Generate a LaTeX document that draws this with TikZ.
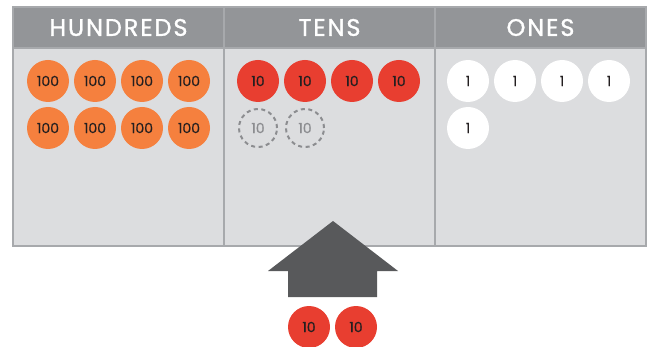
\documentclass[tikz,border=0pt]{standalone}
\usepackage{fontspec}
\setmainfont{Poppins}
\newfontfamily\headfont{Poppins}[FakeBold=1.2, LetterSpace=8]
\newfontfamily\chipfont{Poppins}[FakeBold=0.6]
\usepackage{tikz}
\usetikzlibrary{positioning}
\definecolor{headgray}{HTML}{939598}
\definecolor{bodygray}{HTML}{DCDDDF}
\definecolor{linegray}{HTML}{A7A9AC}
\definecolor{hundredorange}{HTML}{F5803E}
\definecolor{tenred}{HTML}{E83E30}
\definecolor{chipblack}{HTML}{231F20}
\definecolor{ghostgray}{HTML}{8C8D90}
\definecolor{arrowgray}{HTML}{58595B}
\tikzstyle{header} = [rectangle, minimum width=211pt, minimum height=41pt, inner sep=0pt, fill=headgray, text=white, font=\headfont\fontsize{24}{24}\selectfont]
\tikzstyle{column} = [rectangle, minimum width=211pt, minimum height=198pt, inner sep=0pt, fill=bodygray]
\tikzstyle{chip} = [circle, minimum size=42pt, inner sep=0pt, text=chipblack, font=\chipfont\fontsize{14}{14}\selectfont]
\tikzstyle{hundred} = [chip, fill=hundredorange]
\tikzstyle{ten} = [chip, fill=tenred]
\tikzstyle{one} = [chip, fill=white]
\tikzstyle{ghost} = [chip, minimum size=38pt, draw=ghostgray, line width=2pt, dash pattern=on 4pt off 3.5pt, text=ghostgray]
\tikzstyle{divider} = [draw=linegray, line width=1.5pt]

\begin{document}
\begin{tikzpicture}[x=1pt, y=1pt, node distance=47pt]
  \useasboundingbox (0,0) rectangle (652,-347);
  % place value table
  \node (hundreds_head) [header] at (118.5,-27.5) {HUNDREDS};
  \node (tens_head) [header, right of = hundreds_head, xshift=164pt] {TENS};
  \node (ones_head) [header, right of = tens_head, xshift=164pt] {ONES};
  \node (hundreds_col) [column] at (118.5,-147) {};
  \node (tens_col) [column, right of = hundreds_col, xshift=164pt] {};
  \node (ones_col) [column, right of = tens_col, xshift=164pt] {};
  \draw[divider] (hundreds_head.south west) -- (ones_head.south east);
  \draw[divider] (hundreds_head.north east) -- (hundreds_col.south east);
  \draw[divider] (tens_head.north east) -- (tens_col.south east);
  \draw[divider] (hundreds_head.north west) rectangle (ones_col.south east);
  % hundreds
  \node (h1) [hundred] at (48,-81) {100};
  \node (h2) [hundred, right of = h1] {100};
  \node (h3) [hundred, right of = h2] {100};
  \node (h4) [hundred, right of = h3] {100};
  \node (h5) [hundred, below of = h1] {100};
  \node (h6) [hundred, right of = h5] {100};
  \node (h7) [hundred, right of = h6] {100};
  \node (h8) [hundred, right of = h7] {100};
  % tens
  \node (t1) [ten] at (258,-81) {10};
  \node (t2) [ten, right of = t1] {10};
  \node (t3) [ten, right of = t2] {10};
  \node (t4) [ten, right of = t3] {10};
  \node (t5) [ghost, below of = t1] {10};
  \node (t6) [ghost, right of = t5] {10};
  % ones
  \node (o1) [one] at (468,-81) {1};
  \node (o2) [one, right of = o1] {1};
  \node (o3) [one, right of = o2] {1};
  \node (o4) [one, right of = o3] {1};
  \node (o5) [one, below of = o1] {1};
  % carried tens
  \node (carry_a) [ten] at (309,-327) {10};
  \node (carry_b) [ten, right of = carry_a] {10};
  \fill[arrowgray] (333,-221) -- (398,-271) -- (377,-271) -- (377,-297)
    -- (288,-297) -- (288,-271) -- (268,-271) -- cycle;
\end{tikzpicture}
\end{document}
